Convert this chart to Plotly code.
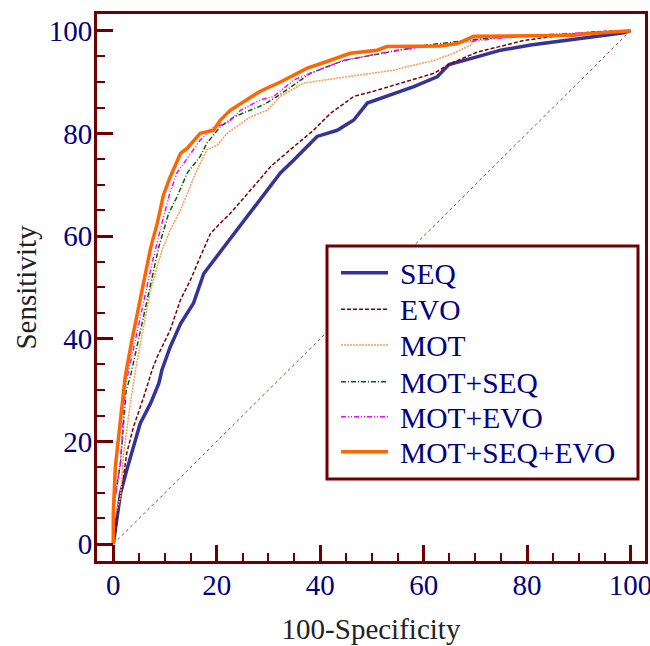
import plotly.graph_objects as go

# ---- data ----
seq_x = [0, 0.1, 0.7, 1.4, 2.6, 3.9, 5.2, 7.2, 8.8, 9.4, 11.0, 13.0, 15.5, 17.5, 20.7, 23.9, 28.4, 32.3, 34.9, 39.4, 43.3, 46.5, 49.1, 52.9, 58.1, 62.6, 64.9, 70.3, 74.9, 80.7, 86.5, 92.9, 98.7, 100]
seq_y = [0, 0.8, 4.7, 9.9, 14.4, 19.0, 23.5, 27.4, 31.3, 33.9, 38.4, 42.9, 46.9, 52.7, 56.9, 61.2, 67.0, 72.3, 74.8, 79.4, 80.6, 82.6, 85.9, 87.2, 89.1, 91.0, 93.4, 94.9, 96.2, 97.2, 98.0, 98.8, 99.6, 100]

evo_x = [0, 0.4, 1.0, 1.7, 2.6, 3.9, 5.9, 7.5, 8.5, 11.0, 13.0, 14.9, 16.8, 18.8, 20.7, 22.6, 27.1, 30.4, 34.2, 38.7, 42.0, 46.5, 50.3, 54.2, 59.4, 62.0, 65.2, 70.3, 79.4, 86.0, 93.0, 100]
evo_y = [0, 2.1, 7.9, 11.1, 17.7, 22.8, 28.7, 33.9, 36.5, 41.7, 47.6, 51.4, 55.9, 60.5, 62.5, 64.4, 69.6, 73.5, 76.8, 80.6, 83.9, 87.2, 88.2, 89.4, 91.0, 91.7, 93.6, 95.8, 98.1, 99.0, 99.8, 100]

mot_x = [0, 0.2, 1.4, 2.0, 3.3, 4.3, 5.6, 7.2, 9.4, 11.0, 13.0, 14.6, 16.2, 18.1, 20.1, 22.0, 24.6, 26.5, 29.7, 32.3, 36.8, 41.3, 47.8, 54.2, 56.8, 62.0, 65.8, 69.1, 69.7, 76.8, 90.0, 100]
mot_y = [0, 5.0, 9.2, 17.7, 27.4, 33.9, 41.0, 49.5, 57.2, 61.2, 65.1, 68.9, 72.9, 76.8, 77.7, 80.0, 81.9, 83.2, 84.5, 87.2, 89.8, 90.4, 91.4, 92.3, 93.0, 94.2, 95.6, 97.2, 98.4, 98.7, 99.5, 100]

motseq_x = [0, 0.2, 1.4, 2.5, 3.3, 6.5, 8.8, 10.7, 12.3, 14.3, 16.8, 18.1, 20.7, 23.3, 26.5, 29.1, 31.7, 38.1, 44.5, 49.7, 55.5, 60.7, 63.2, 75.0, 88.0, 100]
motseq_y = [0, 8.0, 16.0, 30.0, 32.6, 47.6, 57.9, 64.4, 67.6, 72.3, 75.5, 78.1, 81.3, 83.2, 84.5, 85.6, 87.2, 91.7, 94.2, 95.2, 96.2, 97.2, 97.5, 98.8, 99.3, 100]

motevo_x = [0, 0.2, 1.4, 2.3, 3.0, 5.2, 7.5, 9.4, 11.0, 12.3, 14.9, 16.8, 19.4, 22.0, 24.6, 28.4, 31.0, 34.9, 38.1, 44.5, 49.7, 54.9, 65.8, 74.2, 85.0, 100]
motevo_y = [0, 8.0, 15.8, 30.7, 33.9, 44.3, 54.7, 62.5, 68.6, 72.3, 76.1, 78.7, 81.3, 81.9, 84.5, 86.5, 87.2, 90.4, 91.7, 94.2, 95.2, 96.2, 97.5, 98.5, 99.3, 100]

all_x = [0, 0.0, 0.4, 1.0, 1.7, 2.3, 3.6, 5.9, 7.2, 8.5, 9.7, 11.0, 13.0, 14.3, 16.8, 19.4, 20.7, 22.6, 25.9, 28.4, 32.3, 37.5, 41.3, 45.8, 51.0, 52.9, 63.2, 66.5, 69.7, 89.0, 91.6, 100]
all_y = [0, 6.0, 15.1, 20.9, 27.4, 32.6, 39.7, 51.4, 57.6, 62.5, 68.0, 71.5, 76.1, 77.1, 80.0, 80.6, 82.6, 84.5, 86.5, 88.2, 90.0, 92.7, 94.0, 95.6, 96.2, 96.9, 97.0, 97.5, 98.9, 99.1, 99.4, 100]

diag_x = [0, 100]
diag_y = [0, 100]

series_names = ["SEQ", "EVO", "MOT", "MOT+SEQ", "MOT+EVO", "MOT+SEQ+EVO"]
x_ticks = [0, 20, 40, 60, 80, 100]
y_ticks = [0, 20, 40, 60, 80, 100]

FRAME = "#700000"
NAVY = "#000080"
FONT = "Liberation Serif"

W, H = 650, 646
ML, MR, MT, MB = 97, 5, 14, 85
PW, PH = W - ML - MR, H - MT - MB


def px(xp):
    return (xp - ML) / PW


def py(yp):
    return (H - MB - yp) / PH


styles = [
    dict(color="#333399", width=3.5),
    dict(color="#800000", width=1.5, dash="4px,2px"),
    dict(color="#FF9955", width=1.5, dash="2px,1px"),
    dict(color="#006400", width=1.5, dash="5px,2px,1px,2px"),
    dict(color="#FF00FF", width=1.5, dash="5px,2px,1px,2px,1px,2px"),
    dict(color="#FF6600", width=3.5),
]
data_x = [seq_x, evo_x, mot_x, motseq_x, motevo_x, all_x]
data_y = [seq_y, evo_y, mot_y, motseq_y, motevo_y, all_y]

fig = go.Figure()
fig.add_trace(go.Scatter(x=diag_x, y=diag_y, mode="lines", showlegend=False,
                         line=dict(color="#A03838", width=1, dash="dot"), hoverinfo="skip"))
for name, xs, ys, ln in zip(series_names, data_x, data_y, styles):
    fig.add_trace(go.Scatter(x=xs, y=ys, mode="lines", name=name, line=ln, showlegend=False))

axis_common = dict(
    showline=True, mirror=True, linecolor=FRAME, linewidth=3,
    showgrid=False, zeroline=False, automargin=False,
    ticks="inside", ticklen=16, tickwidth=3, tickcolor=FRAME,
    ticklabeloverflow="allow", ticklabelstandoff=-4,
    tickfont=dict(family=FONT, size=29, color=NAVY),
    minor=dict(ticks="inside", ticklen=8, tickwidth=2, tickcolor=FRAME, dtick=5),
)

fig.update_xaxes(range=[-3.15, 102.8], tickvals=x_ticks, ticktext=[str(v) for v in x_ticks],
                 title=dict(text="100-Specificity", font=dict(family=FONT, size=29, color="#222222"), standoff=19),
                 **axis_common)
fig.update_yaxes(range=[-3.3, 103.25], tickvals=y_ticks, ticktext=[str(v) for v in y_ticks],
                 title=dict(text="Sensitivity", font=dict(family=FONT, size=29, color="#222222"), standoff=4),
                 **axis_common)

# ---- legend box (drawn to match the reference's legend metrics) ----
shapes = [dict(type="rect", xref="paper", yref="paper",
               x0=px(327), x1=px(638), y0=py(479), y1=py(246),
               line=dict(color=FRAME, width=3), fillcolor="white", layer="above")]
annotations = []
row_y = [272.7, 309.3, 345.0, 381.7, 416.7, 451.7]
for name, ln, ry in zip(series_names, styles, row_y):
    sl = dict(color=ln["color"], width=ln["width"])
    if "dash" in ln:
        sl["dash"] = ln["dash"]
    shapes.append(dict(type="line", xref="paper", yref="paper",
                       x0=px(341), x1=px(388), y0=py(ry), y1=py(ry),
                       line=sl, layer="above"))
    annotations.append(dict(text=name, xref="paper", yref="paper",
                            x=px(398), y=py(ry), xanchor="left", yanchor="middle",
                            yshift=-1, showarrow=False,
                            font=dict(family=FONT, size=29.5, color=NAVY)))

fig.update_layout(
    width=W, height=H,
    margin=dict(l=ML, r=MR, t=MT, b=MB),
    paper_bgcolor="white", plot_bgcolor="white",
    showlegend=False,
    shapes=shapes, annotations=annotations,
)

fig.write_html("out.html", config={"displayModeBar": False},
               post_script="document.body.style.margin='0';")
